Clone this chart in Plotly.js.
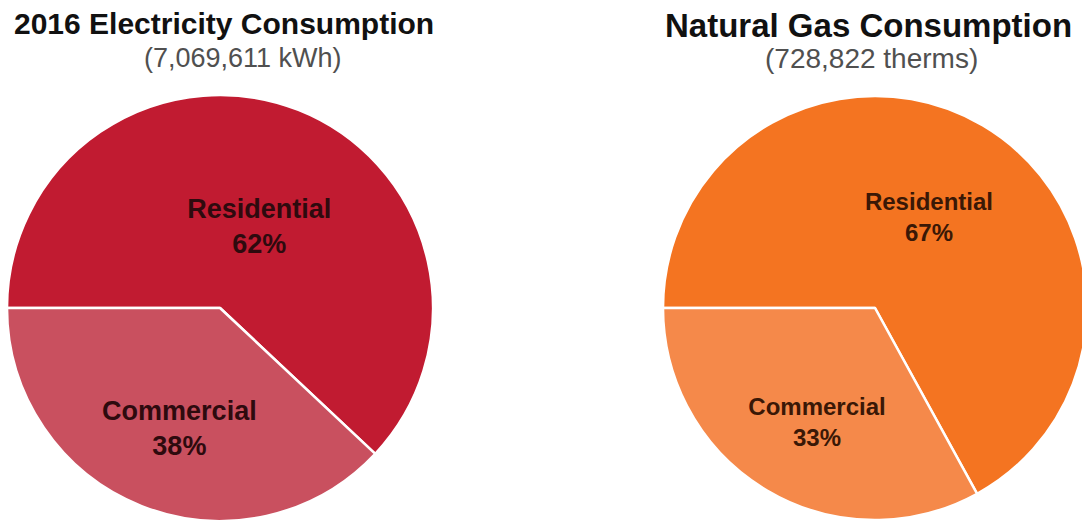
<!DOCTYPE html>
<html>
<head>
<meta charset="utf-8">
<script src="https://cdn.plot.ly/plotly-3.0.1.min.js"></script>
<style>
  html, body { margin: 0; padding: 0; background: #ffffff; overflow: hidden; }
  #chart { width: 1100px; height: 540px; }
</style>
</head>
<body>
<div id="chart"></div>
<script>
// Consumption shares by sector (percent of total)
const sectors = ['Residential', 'Commercial'];
const electricityShare = [62, 38];
const gasShare = [67, 33];

// Chart headings
const electricityTitle = '2016 Electricity Consumption';
const electricityTotal = '(7,069,611 kWh)';
const gasTitle = 'Natural Gas Consumption';
const gasTotal = '(728,822 therms)';

const W = 1100, H = 540;
const FONT = 'Arial, "Liberation Sans", sans-serif';

// pixel box helpers -> paper fractions
const px = v => v / W;
const py = v => (H - v) / H;

const elecColors = ['#C11B31', '#C9505F'];
const gasColors = ['#F47421', '#F5894A'];

// slice label: bold name over bold percentage; a leading blank line
// nudges the label block a little further down inside its slice
const LABEL = '<b>%{label}</b><br><b>%{percent:.0%}</b>';
const LOWERED = '\u00a0<br>' + LABEL;

function pieTrace(values, colors, domain, templates, fontSize, textColor) {
  return {
    type: 'pie',
    labels: sectors,
    values: values,
    sort: false,
    direction: 'clockwise',
    rotation: -90,
    marker: { colors: colors, line: { color: '#ffffff', width: 2.5 } },
    texttemplate: templates,
    textposition: 'inside',
    insidetextorientation: 'horizontal',
    insidetextfont: { family: FONT, size: fontSize, color: textColor },
    hoverinfo: 'label+percent',
    showlegend: false,
    domain: domain
  };
}

const data = [
  pieTrace(electricityShare, elecColors,
    { x: [px(7), px(433)], y: [py(521), py(95)] }, [LOWERED, LOWERED], 27, '#2e0a0e'),
  pieTrace(gasShare, gasColors,
    { x: [px(663), px(1087)], y: [py(520), py(96)] }, [LABEL, LOWERED], 24, '#3a1806')
];

const layout = {
  width: W,
  height: H,
  margin: { l: 0, r: 0, t: 0, b: 0 },
  paper_bgcolor: '#ffffff',
  plot_bgcolor: '#ffffff',
  annotations: [
    { text: '<b>' + electricityTitle + '</b>', x: px(224), y: py(5), xref: 'paper', yref: 'paper',
      xanchor: 'center', yanchor: 'top', showarrow: false,
      font: { family: FONT, size: 30, color: '#111111' } },
    { text: electricityTotal, x: px(243), y: py(41), xref: 'paper', yref: 'paper',
      xanchor: 'center', yanchor: 'top', showarrow: false,
      font: { family: FONT, size: 27, color: '#505050' } },
    { text: '<b>' + gasTitle + '</b>', x: px(868), y: py(5), xref: 'paper', yref: 'paper',
      xanchor: 'center', yanchor: 'top', showarrow: false,
      font: { family: FONT, size: 33, color: '#111111' } },
    { text: gasTotal, x: px(871), y: py(41), xref: 'paper', yref: 'paper',
      xanchor: 'center', yanchor: 'top', showarrow: false,
      font: { family: FONT, size: 28, color: '#505050' } }
  ]
};

Plotly.newPlot('chart', data, layout, { staticPlot: true, displayModeBar: false });
</script>
</body>
</html>
